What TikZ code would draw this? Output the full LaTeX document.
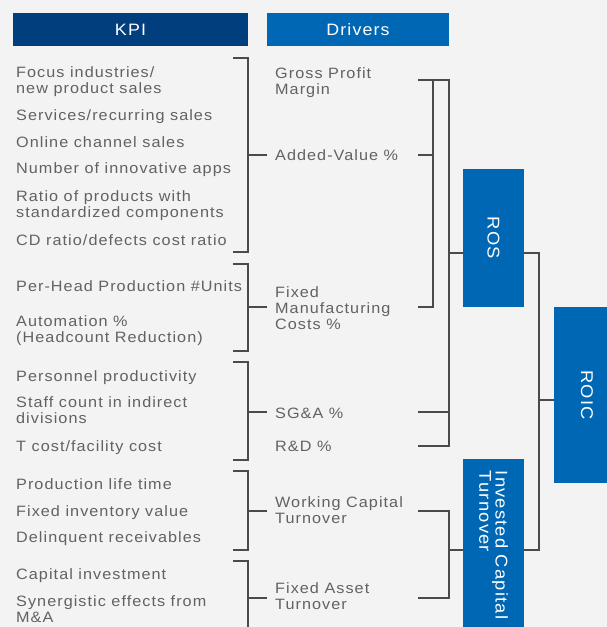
\documentclass[tikz,border=0pt]{standalone}
\usepackage{fontspec}
\setmainfont{Liberation Sans}[FakeStretch=1.08,LetterSpace=7]
\usepackage{graphicx}
\usetikzlibrary{positioning,calc}
\definecolor{kpiblue}{HTML}{003E7E}
\definecolor{drvblue}{HTML}{0067B4}
\definecolor{txtgray}{HTML}{626262}
\definecolor{wiregray}{HTML}{4A4A4A}
\definecolor{bggray}{HTML}{F3F3F3}

\begin{document}
\begin{tikzpicture}[x=1pt,y=-1pt,-,node distance=10pt]
	\tikzstyle{point}=[coordinate]
	\tikzstyle{head}=[fill, text=white, inner sep=0pt, minimum height=33pt, font=\fontsize{16.5}{18}\selectfont]
	\tikzstyle{kpi}=[anchor=base west, inner sep=0pt, text=txtgray, align=left, font=\fontsize{15}{16}\selectfont]
	\tikzstyle{driver}=[anchor=base west, inner xsep=8pt, inner ysep=0pt, text=txtgray, align=left, font=\fontsize{15}{16}\selectfont]
	\tikzstyle{block}=[fill=drvblue, text=white, inner sep=0pt, font=\fontsize{17}{15}\selectfont]
	\tikzstyle{wire}=[draw=wiregray, line width=1.1pt]
	% Background
	\useasboundingbox (0,0) rectangle (607,627);
	\clip (0,0) rectangle (607,627);
	\fill[bggray] (0,0) rectangle (607,627);
	% Headers
	\node[head, fill=kpiblue, minimum width=235pt] (hkpi) at (130.5,29.5) {KPI};
	\node[head, fill=drvblue, minimum width=182pt] (hdrv) at (358,29.5) {Drivers};
	% KPI items (base = last line)
	\node[kpi] (k1)  at (16,93.3)  {Focus industries/\\new product sales};
	\node[kpi] (k2)  at (16,120.7) {Services/recurring sales};
	\node[kpi] (k3)  at (16,147.7) {Online channel sales};
	\node[kpi] (k4)  at (16,173.3) {Number of innovative apps};
	\node[kpi] (k5)  at (16,217.7) {Ratio of products with\\standardized components};
	\node[kpi] (k6)  at (16,245)   {CD ratio/defects cost ratio};
	\node[kpi] (k7)  at (16,291)   {Per-Head Production \#Units};
	\node[kpi] (k8)  at (16,342.3) {Automation \%\\(Headcount Reduction)};
	\node[kpi] (k9)  at (16,381)   {Personnel productivity};
	\node[kpi] (k10) at (16,423.3) {Staff count in indirect\\divisions};
	\node[kpi] (k11) at (16,451.7) {T cost/facility cost};
	\node[kpi] (k12) at (16,489.3) {Production life time};
	\node[kpi] (k13) at (16,516)   {Fixed inventory value};
	\node[kpi] (k14) at (16,542.3) {Delinquent receivables};
	\node[kpi] (k15) at (16,579.3) {Capital investment};
	\node[kpi] (k16) at (16,622.3) {Synergistic effects from\\M\&A};
	% Drivers
	\node[driver] (GP)  at (267,94.3)  {Gross Profit\\Margin};
	\node[driver] (AV)  at (267,160.7) {Added-Value \%};
	\node[driver] (FMC) at (267,329)   {Fixed\\Manufacturing\\Costs \%};
	\node[driver] (SGA) at (267,418.3) {SG\&A \%};
	\node[driver] (RD)  at (267,451.7) {R\&D \%};
	\node[driver] (WCT) at (267,523.3) {Working Capital\\Turnover};
	\node[driver] (FAT) at (267,609.3) {Fixed Asset\\Turnover};
	% Blocks
	\node[block, minimum width=61pt, minimum height=138pt] (ROS)  at (493.5,238) {\rotatebox[origin=c]{-90}{ROS}};
	\node[block, minimum width=61pt, minimum height=172pt] (ICT)  at (493.5,545) {\rotatebox[origin=c]{-90}{\vbox{\baselineskip=15pt\hbox{Invested Capital}\hbox{Turnover}}}};
	\node[block, minimum width=66pt, minimum height=176pt] (ROIC) at (587,395) {\rotatebox[origin=c]{-90}{ROIC}};
	% Points
	\node[point] (b1a) at (248,58)  {};
	\node[point] (b1b) at (248,252) {};
	\node[point] (b2a) at (248,264) {};
	\node[point] (b2b) at (248,351) {};
	\node[point] (b3a) at (248,362) {};
	\node[point] (b3b) at (248,460) {};
	\node[point] (b4a) at (248,471) {};
	\node[point] (b4b) at (248,550) {};
	\node[point] (b5a) at (248,561) {};
	\node[point] (b5b) at (248,640) {};
	\node[point] (g1) at (418,80)  {};
	\node[point] (a1) at (418,155) {};
	\node[point] (f1) at (418,307) {};
	\node[point] (s1) at (418,412) {};
	\node[point] (r1) at (418,446) {};
	\node[point] (w1) at (418,511) {};
	\node[point] (t1) at (418,598) {};
	\node[point] (m1) at (433,80)  {};
	\node[point] (m2) at (433,307) {};
	\node[point] (q1) at (449,80)  {};
	\node[point] (q2) at (449,446) {};
	\node[point] (q3) at (449,253) {};
	\node[point] (u1) at (449,511) {};
	\node[point] (u2) at (449,598) {};
	\node[point] (u3) at (449,550) {};
	\node[point] (v1) at (539,253) {};
	\node[point] (v2) at (539,550) {};
	\node[point] (v3) at (539,400) {};
	% KPI brackets
	\draw[wire] (b1a) ++(-15,0) -- (b1a) -- (b1b) -- ++(-15,0) (b1a |- a1) -- (a1 -| AV.west);
	\draw[wire] (b2a) ++(-15,0) -- (b2a) -- (b2b) -- ++(-15,0) (b2a |- f1) -- (f1 -| FMC.west);
	\draw[wire] (b3a) ++(-15,0) -- (b3a) -- (b3b) -- ++(-15,0) (b3a |- s1) -- (s1 -| SGA.west);
	\draw[wire] (b4a) ++(-15,0) -- (b4a) -- (b4b) -- ++(-15,0) (b4a |- w1) -- (w1 -| WCT.west);
	\draw[wire] (b5a) ++(-15,0) -- (b5a) -- (b5b) (b5a |- t1) -- (t1 -| FAT.west);
	% Driver lines
	\draw[wire] (g1) -- (q1) -- (q2) -- (r1) (m1) -- (m2) -- (f1) (a1) -- (a1 -| m1) (s1) -- (s1 -| q1);
	\draw[wire] (q3) -- (q3 -| ROS.west);
	\draw[wire] (w1) -- (u1) -- (u2) -- (t1) (u3) -- (u3 -| ICT.west);
	% Other lines
	\draw[wire] (v1 -| ROS.east) -- (v1) -- (v2) -- (v2 -| ICT.east) (v3) -- (v3 -| ROIC.west);
\end{tikzpicture}
\end{document}
